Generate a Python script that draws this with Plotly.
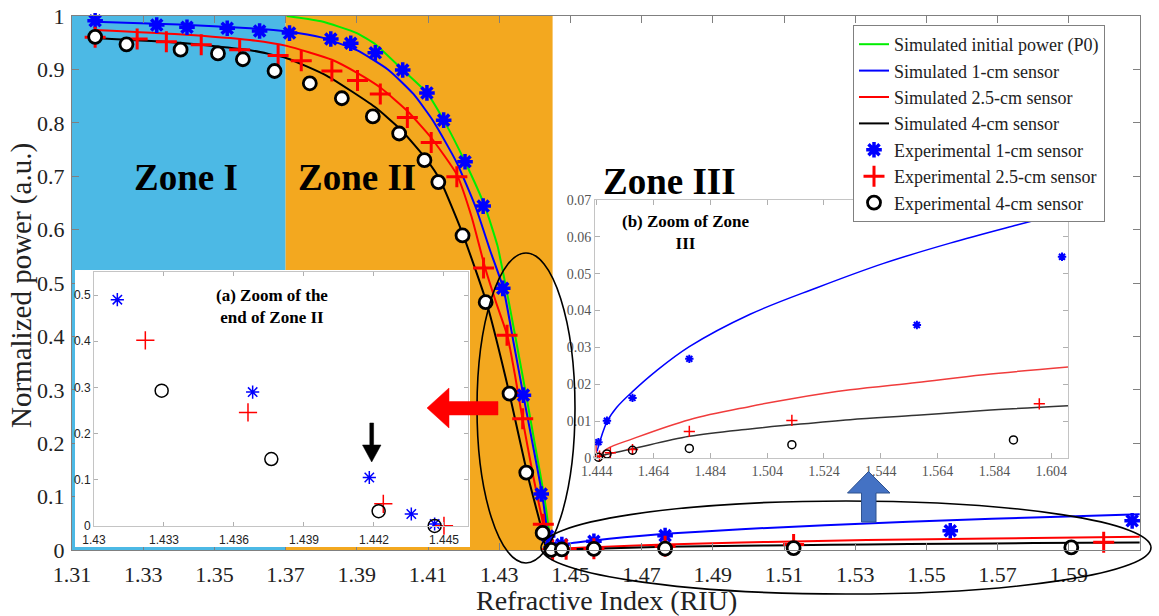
import plotly.graph_objects as go

# ---------------- DATA ----------------
# Simulated curves
sim_p0_x = [1.3703, 1.3800, 1.3900, 1.3952, 1.4029, 1.4097, 1.4144, 1.4204, 1.4260, 1.4295,
            1.4320, 1.4348, 1.4376, 1.4401, 1.4425, 1.4439, 1.4446]
sim_p0_y = [1.000, 0.990, 0.968, 0.947, 0.899, 0.856, 0.805, 0.727, 0.643, 0.570,
            0.489, 0.390, 0.289, 0.195, 0.106, 0.040, 0.000]

sim_1cm_x = [1.3165, 1.3400, 1.3600, 1.3703, 1.3800, 1.3900, 1.3989, 1.4059, 1.4115, 1.4181,
             1.4235, 1.4275, 1.4312, 1.4340, 1.4368, 1.4395, 1.4420, 1.4434, 1.4441,
             1.4476, 1.4510, 1.4566, 1.4651, 1.4766, 1.4980, 1.5215, 1.5450, 1.5684,
             1.5919, 1.6099]
sim_1cm_y = [0.989, 0.984, 0.977, 0.971, 0.960, 0.936, 0.899, 0.854, 0.803, 0.725,
             0.640, 0.560, 0.489, 0.390, 0.289, 0.195, 0.106, 0.040, 0.0018,
             0.0098, 0.0137, 0.0180, 0.0237, 0.0302, 0.0390, 0.0462, 0.0528, 0.0583,
             0.0632, 0.0668]

sim_25cm_x = [1.3165, 1.3400, 1.3600, 1.3703, 1.3830, 1.3902, 1.3966, 1.4042, 1.4109, 1.4181,
              1.4222, 1.4261, 1.4292, 1.4323, 1.4345, 1.4365, 1.4395, 1.4424, 1.4438,
              1.4444, 1.4476, 1.4566, 1.4766, 1.4980, 1.5127, 1.5332, 1.5567, 1.5802, 1.6099]
sim_25cm_y = [0.974, 0.966, 0.955, 0.944, 0.918, 0.893, 0.866, 0.822, 0.772, 0.703,
              0.625, 0.527, 0.462, 0.401, 0.325, 0.247, 0.140, 0.047, 0.004,
              0.0004, 0.0025, 0.0052, 0.0104, 0.0140, 0.0161, 0.0185, 0.0205, 0.0226, 0.0247]

sim_4cm_x = [1.3165, 1.3400, 1.3600, 1.3703, 1.3816, 1.3950, 1.4024, 1.4095, 1.4134, 1.4197,
             1.4265, 1.4329, 1.4378, 1.4422, 1.4432,
             1.4440, 1.4476, 1.4566, 1.4766, 1.4980, 1.5127, 1.5332, 1.5567, 1.5802, 1.6099]
sim_4cm_y = [0.959, 0.950, 0.936, 0.921, 0.888, 0.830, 0.787, 0.732, 0.693, 0.593,
             0.462, 0.292, 0.145, 0.032, 0.003,
             0.0002, 0.0010, 0.0025, 0.0059, 0.0079, 0.0090, 0.0104, 0.0116, 0.0129, 0.0142]

# Experimental points
exp_1cm_x = [1.3165, 1.3338, 1.3423, 1.3536, 1.3627, 1.3711, 1.3827, 1.3883, 1.3952, 1.4029,
             1.4097, 1.4144, 1.4204, 1.4255, 1.4310, 1.4368, 1.4418, 1.4436, 1.4446,
             1.4476, 1.4566, 1.4766, 1.5567, 1.6078]
exp_1cm_y = [0.991, 0.983, 0.979, 0.977, 0.972, 0.968, 0.957, 0.949, 0.931, 0.899,
             0.856, 0.805, 0.727, 0.644, 0.490, 0.290, 0.105, 0.026, 0.0043,
             0.0101, 0.0163, 0.0269, 0.0361, 0.0546]

exp_25cm_x = [1.3165, 1.3283, 1.3365, 1.3463, 1.3571, 1.3679, 1.3744, 1.3830, 1.3902, 1.3966,
              1.4042, 1.4109, 1.4181, 1.4256, 1.4322, 1.4366, 1.4424, 1.4450,
              1.4488, 1.4566, 1.4766, 1.5127, 1.5998]
exp_25cm_y = [0.960, 0.957, 0.952, 0.946, 0.937, 0.926, 0.916, 0.897, 0.879, 0.854,
              0.810, 0.763, 0.699, 0.528, 0.402, 0.246, 0.048, 0.0005,
              0.0014, 0.0023, 0.0072, 0.0102, 0.0147]

exp_4cm_x = [1.3165, 1.3253, 1.3405, 1.3510, 1.3580, 1.3669, 1.3768, 1.3858, 1.3945, 1.4019,
             1.4090, 1.4129, 1.4197, 1.4262, 1.4329, 1.4376, 1.4422, 1.4446,
             1.4476, 1.4566, 1.4766, 1.5127, 1.5907]
exp_4cm_y = [0.961, 0.947, 0.937, 0.930, 0.919, 0.897, 0.874, 0.846, 0.812, 0.780,
             0.730, 0.689, 0.589, 0.464, 0.293, 0.145, 0.032, 0.0002,
             0.0011, 0.0021, 0.0026, 0.0036, 0.0049]

# Ticks
main_x_ticks = [1.31, 1.33, 1.35, 1.37, 1.39, 1.41, 1.43, 1.45, 1.47, 1.49, 1.51, 1.53, 1.55, 1.57, 1.59, 1.61]
main_x_labels = ["1.31", "1.33", "1.35", "1.37", "1.39", "1.41", "1.43", "1.45", "1.47", "1.49",
                 "1.51", "1.53", "1.55", "1.57", "1.59", "1.61"]
main_y_ticks = [0, 0.1, 0.2, 0.3, 0.4, 0.5, 0.6, 0.7, 0.8, 0.9, 1.0]
main_y_labels = ["0", "0.1", "0.2", "0.3", "0.4", "0.5", "0.6", "0.7", "0.8", "0.9", "1"]
ins_a_x_ticks = [1.430, 1.433, 1.436, 1.439, 1.442, 1.445]
ins_a_x_labels = ["1.43", "1.433", "1.436", "1.439", "1.442", "1.445"]
ins_a_y_ticks = [0, 0.1, 0.2, 0.3, 0.4, 0.5]
ins_a_y_labels = ["0", "0.1", "0.2", "0.3", "0.4", "0.5"]
ins_b_x_ticks = [1.444, 1.464, 1.484, 1.504, 1.524, 1.544, 1.564, 1.584, 1.604]
ins_b_x_labels = ["1.444", "1.464", "1.484", "1.504", "1.524", "1.544", "1.564", "1.584", "1.604"]
ins_b_y_ticks = [0, 0.01, 0.02, 0.03, 0.04, 0.05, 0.06, 0.07]
ins_b_y_labels = ["0", "0.01", "0.02", "0.03", "0.04", "0.05", "0.06", "0.07"]

# Zones (x boundaries)
zone_bounds = [1.31, 1.37, 1.445]

# ---------------- LAYOUT HELPERS ----------------
W, H = 1159, 616
ML, MR, MT, MB = 72, 19, 16, 66
PW, PH = W - ML - MR, H - MT - MB


def pxx(px):
    return (px - ML) / PW


def pyy(py):
    return (H - MB - py) / PH


SERIF = "Liberation Serif, Times New Roman, serif"
BLUE, RED, BLACK, GREEN = "#0000ff", "#ff0000", "#000000", "#00ee00"


def sel(xs, ys, lo, hi):
    pts = [(a, b) for a, b in zip(xs, ys) if lo <= a <= hi]
    return [p[0] for p in pts], [p[1] for p in pts]


fig = go.Figure()

# ---- main plot ----
fig.add_trace(go.Scatter(x=sim_p0_x, y=sim_p0_y, mode="lines", name="Simulated initial power (P0)",
                         line=dict(color=GREEN, width=2, shape="spline", smoothing=0.5)))
fig.add_trace(go.Scatter(x=sim_1cm_x, y=sim_1cm_y, mode="lines", name="Simulated 1-cm sensor",
                         line=dict(color=BLUE, width=2, shape="spline", smoothing=0.5)))
fig.add_trace(go.Scatter(x=sim_25cm_x, y=sim_25cm_y, mode="lines", name="Simulated 2.5-cm sensor",
                         line=dict(color=RED, width=2, shape="spline", smoothing=0.5)))
fig.add_trace(go.Scatter(x=sim_4cm_x, y=sim_4cm_y, mode="lines", name="Simulated 4-cm sensor",
                         line=dict(color=BLACK, width=2, shape="spline", smoothing=0.5)))
fig.add_trace(go.Scatter(x=exp_1cm_x, y=exp_1cm_y, mode="markers", name="Experimental 1-cm sensor",
                         cliponaxis=False,
                         marker=dict(symbol="asterisk-open", size=13, color=BLUE, line=dict(color=BLUE, width=3.5))))
fig.add_trace(go.Scatter(x=exp_25cm_x, y=exp_25cm_y, mode="markers", name="Experimental 2.5-cm sensor",
                         cliponaxis=False,
                         marker=dict(symbol="cross-thin-open", size=15, color=RED, line=dict(color=RED, width=3))))
fig.add_trace(go.Scatter(x=exp_4cm_x, y=exp_4cm_y, mode="markers", name="Experimental 4-cm sensor",
                         cliponaxis=False,
                         marker=dict(symbol="circle", size=13, color="white", line=dict(color=BLACK, width=2.8))))

# ---- white background box for inset (a) (subplot x2y2) ----
fig.add_trace(go.Scatter(x=[], y=[], xaxis="x2", yaxis="y2", showlegend=False, hoverinfo="skip"))

# ---- inset (a): end of zone II (x3y3) ----
ax, ay = sel(exp_1cm_x, exp_1cm_y, 1.43, 1.4462)
fig.add_trace(go.Scatter(x=ax, y=ay, mode="markers", xaxis="x3", yaxis="y3", showlegend=False, cliponaxis=False,
                         marker=dict(symbol="asterisk-open", size=11, color=BLUE, line=dict(color=BLUE, width=1.5))))
ax, ay = sel(exp_25cm_x, exp_25cm_y, 1.43, 1.4462)
fig.add_trace(go.Scatter(x=ax, y=ay, mode="markers", xaxis="x3", yaxis="y3", showlegend=False, cliponaxis=False,
                         marker=dict(symbol="cross-thin-open", size=13, color=RED, line=dict(color=RED, width=1.5))))
ax, ay = sel(exp_4cm_x, exp_4cm_y, 1.43, 1.4462)
fig.add_trace(go.Scatter(x=ax, y=ay, mode="markers", xaxis="x3", yaxis="y3", showlegend=False, cliponaxis=False,
                         marker=dict(symbol="circle-open", size=13, color=BLACK, line=dict(color=BLACK, width=1.5))))

# ---- inset (b): zone III (x4y4) ----
for xs, ys, col in [(sim_1cm_x, sim_1cm_y, BLUE), (sim_25cm_x, sim_25cm_y, "#f03c3c"), (sim_4cm_x, sim_4cm_y, "#333333")]:
    bx, by = sel(xs, ys, 1.4438, 1.62)
    fig.add_trace(go.Scatter(x=bx, y=by, mode="lines", xaxis="x4", yaxis="y4", showlegend=False,
                             line=dict(color=col, width=1.5, shape="spline", smoothing=1)))
bx, by = sel(exp_1cm_x, exp_1cm_y, 1.444, 1.62)
fig.add_trace(go.Scatter(x=bx, y=by, mode="markers", xaxis="x4", yaxis="y4", showlegend=False, cliponaxis=False,
                         marker=dict(symbol="asterisk-open", size=7, color=BLUE, line=dict(color=BLUE, width=2))))
bx, by = sel(exp_25cm_x, exp_25cm_y, 1.444, 1.62)
fig.add_trace(go.Scatter(x=bx, y=by, mode="markers", xaxis="x4", yaxis="y4", showlegend=False, cliponaxis=False,
                         marker=dict(symbol="cross-thin-open", size=8, color=RED, line=dict(color=RED, width=1.5))))
bx, by = sel(exp_4cm_x, exp_4cm_y, 1.444, 1.62)
fig.add_trace(go.Scatter(x=bx, y=by, mode="markers", xaxis="x4", yaxis="y4", showlegend=False, cliponaxis=False,
                         marker=dict(symbol="circle-open", size=8, color=BLACK, line=dict(color=BLACK, width=1.5))))

# ---------------- AXES ----------------
main_ax = dict(showgrid=False, zeroline=False, showline=True, linecolor="#808080", linewidth=1.2,
               mirror="ticks", ticks="inside", ticklen=7, tickcolor="#808080", automargin=False,
               tickfont=dict(family=SERIF, size=22, color="#222222"))
fig.update_layout(
    xaxis=dict(main_ax, range=[1.31, 1.61], tickvals=main_x_ticks, ticktext=main_x_labels, domain=[0, 1],
               ticklabelstandoff=4),
    yaxis=dict(main_ax, range=[0, 1], tickvals=main_y_ticks, ticktext=main_y_labels, domain=[0, 1],
               ticklabelstandoff=2),
    xaxis2=dict(visible=False, domain=[pxx(75), pxx(470)], anchor="y2", range=[0, 1]),
    yaxis2=dict(visible=False, domain=[pyy(547), pyy(270)], anchor="x2", range=[0, 1]),
)
ins_a = dict(showgrid=False, zeroline=False, showline=True, linecolor="#c4c4c4", linewidth=1,
             mirror="ticks", ticks="inside", ticklen=4, tickcolor="#b0b0b0", automargin=False,
             tickfont=dict(family="Liberation Sans Narrow, Liberation Sans, Arial", size=12, color="#222222"))
fig.update_layout(
    xaxis3=dict(ins_a, domain=[pxx(94), pxx(468)], anchor="y3", range=[1.43, 1.44603],
                tickvals=ins_a_x_ticks, ticktext=ins_a_x_labels, ticklabelstandoff=3),
    yaxis3=dict(ins_a, domain=[pyy(526), pyy(272)], anchor="x3", range=[0, 0.55],
                tickvals=ins_a_y_ticks, ticktext=ins_a_y_labels),
)
ins_b = dict(showgrid=False, zeroline=False, showline=True, linecolor="#c4c4c4", linewidth=1,
             mirror="ticks", ticks="inside", ticklen=5, tickcolor="#b0b0b0", automargin=False,
             tickfont=dict(family=SERIF, size=14, color="#555555"))
fig.update_layout(
    xaxis4=dict(ins_b, domain=[pxx(595), pxx(1068)], anchor="y4", range=[1.4434, 1.6099],
                tickvals=ins_b_x_ticks, ticktext=ins_b_x_labels),
    yaxis4=dict(ins_b, domain=[pyy(458), pyy(200)], anchor="x4", range=[0, 0.07],
                tickvals=ins_b_y_ticks, ticktext=ins_b_y_labels),
)

# ---------------- SHAPES ----------------
shapes = [
    dict(type="rect", xref="x", yref="y", x0=zone_bounds[0], x1=zone_bounds[1], y0=0, y1=1,
         fillcolor="#4cb9e5", line=dict(width=0), layer="below"),
    dict(type="rect", xref="x", yref="y", x0=zone_bounds[1], x1=zone_bounds[2], y0=0, y1=1,
         fillcolor="#f3a81f", line=dict(width=0), layer="below"),
    # ellipses
    dict(type="circle", xref="paper", yref="paper", x0=pxx(477), x1=pxx(575), y0=pyy(563), y1=pyy(253),
         line=dict(color="black", width=1.6), layer="above"),
    dict(type="circle", xref="paper", yref="paper", x0=pxx(541), x1=pxx(1151), y0=pyy(594), y1=pyy(501),
         line=dict(color="black", width=1.6), layer="above"),
]


def poly(pts):
    return "M " + " L ".join(f"{pxx(a):.5f},{pyy(b):.5f}" for a, b in pts) + " Z"


# red arrow (pointing left)
shapes.append(dict(type="path", xref="paper", yref="paper", layer="above",
                   path=poly([(427, 408), (449, 388), (449, 401.5), (498, 401.5), (498, 415), (449, 415), (449, 428)]),
                   fillcolor="#ff0000", line=dict(color="#ff0000", width=0.5)))
# blue arrow (pointing up)
shapes.append(dict(type="path", xref="paper", yref="paper", layer="above",
                   path=poly([(868.5, 471.5), (890, 493), (876, 493), (876, 522), (861.5, 522), (861.5, 493), (847.5, 493)]),
                   fillcolor="#4472c4", line=dict(color="#2f528f", width=1)))
# black arrow in inset (a)
shapes.append(dict(type="path", xref="paper", yref="paper", layer="above",
                   path=poly([(369.8, 423), (373.6, 423), (373.6, 445), (381, 445), (371.7, 462), (362.5, 445), (369.8, 445)]),
                   fillcolor="black", line=dict(color="black", width=0.5)))

# ---------------- ANNOTATIONS ----------------
ann = []


def text(px, py, s, size, bold=False, family=SERIF, angle=0, color="black"):
    ann.append(dict(xref="paper", yref="paper", x=pxx(px), y=pyy(py), text=f"<b>{s}</b>" if bold else s,
                    showarrow=False, textangle=angle, xanchor="center", yanchor="middle",
                    font=dict(family=family, size=size, color=color)))


text(186, 178, "Zone I", 37, bold=True)
text(357, 178, "Zone II", 37, bold=True)
text(669, 181, "Zone III", 37, bold=True)
text(272, 306, "(a) Zoom of the<br>end of Zone II", 17, bold=True)
text(685, 232, "(b) Zoom of Zone<br>III", 17, bold=True)
text(21, 286, "Normalized power (a.u.)", 29, angle=-90, color="#222222")
text(606, 600, "Refractive Index (RIU)", 28, color="#222222")

fig.update_layout(
    width=W, height=H,
    margin=dict(l=ML, r=MR, t=MT, b=MB, autoexpand=False),
    paper_bgcolor="white", plot_bgcolor="white",
    shapes=shapes, annotations=ann,
    showlegend=True,
    legend=dict(x=pxx(853), y=pyy(25), xanchor="left", yanchor="top",
                font=dict(family=SERIF, size=18, color="#222222"),
                bgcolor="white", bordercolor="#808080", borderwidth=1,
                tracegroupgap=0, itemwidth=30),
)

fig.write_html("out.html", config={"displayModeBar": False},
               post_script="document.body.style.margin='0px';")
